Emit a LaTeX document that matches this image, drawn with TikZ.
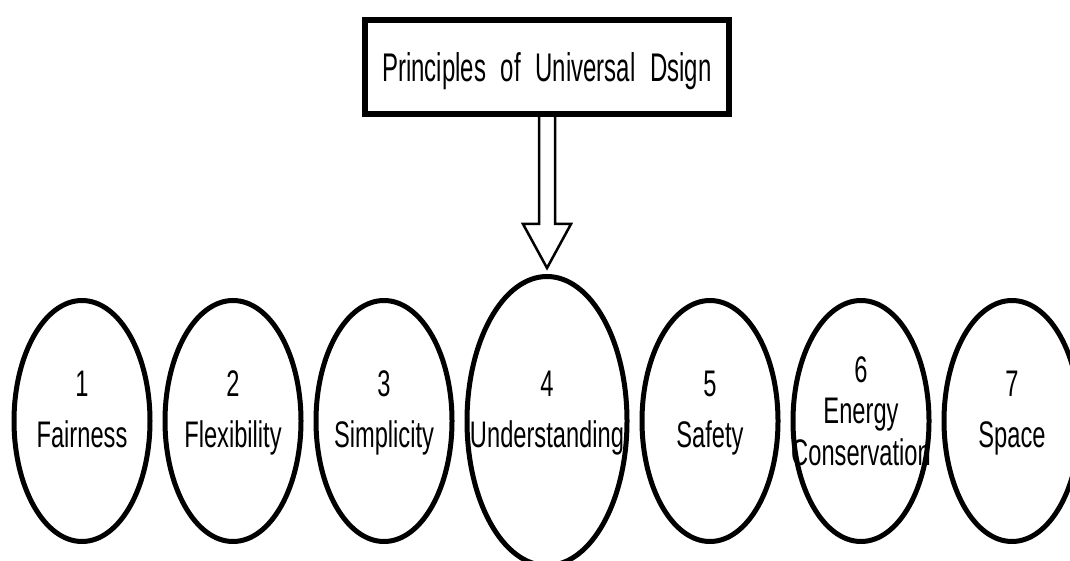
\documentclass[tikz,border=0pt]{standalone}
\usepackage{fontspec}
\newfontfamily\cadfont[FakeStretch=0.64]{Liberation Sans}
\newfontfamily\cadtitlefont[FakeStretch=0.6,WordSpace=2.2]{Liberation Sans}
\usetikzlibrary{positioning, calc, shapes.geometric}

\begin{document}
\begin{tikzpicture}[
    x=1pt, y=-1pt,
    principle/.style={draw, ellipse, line width=5pt, minimum width=136pt,
                      minimum height=241pt, inner sep=0pt},
    bigprinciple/.style={principle, minimum width=160pt, minimum height=289pt},
    titlebox/.style={draw, line width=6pt, minimum width=364pt,
                     minimum height=94pt, text depth=0pt,
                     font=\cadtitlefont\fontsize{40}{48}\selectfont},
    txt/.style={anchor=base, inner sep=0pt,
                font=\cadfont\fontsize{37}{44}\selectfont}
  ]
  \useasboundingbox (0,0) rectangle (1070,561);

  \node[titlebox] (title) at (547,67) {Principles of Universal Dsign};

  \node[principle] (p1) at (82,421) {};
  \node[principle, right=10pt of p1] (p2) {};
  \node[principle, right=10pt of p2] (p3) {};
  \node[bigprinciple, right=10pt of p3] (p4) {};
  \node[principle, right=10pt of p4] (p5) {};
  \node[principle, right=10pt of p5] (p6) {};
  \node[principle, right=10pt of p6] (p7) {};

  \foreach \i/\name in {1/Fairness, 2/Flexibility, 3/Simplicity,
                        4/Understanding, 5/Safety, 7/Space} {
    \node[txt] (n\i) at ($(p\i)+(0,-25)$) {\i};
    \node[txt] (t\i) at ($(p\i)+(0,26)$) {\name};
  }
  \node[txt] (n6) at ($(p6)+(0,-39)$) {6};
  \node[txt] (t6a) at ($(p6)+(0,2)$) {Energy};
  \node[txt] (t6b) at ($(p6)+(0,44)$) {Conservation};

  \coordinate (tip) at ($(p4.north)+(0,-6)$);
  \draw[line width=2.5pt, line join=miter]
    ($(title.south)+(-8,-3)$) -- ($(tip)+(-8,-44)$) -- ($(tip)+(-24,-44)$)
    -- (tip) -- ($(tip)+(24,-44)$) -- ($(tip)+(8,-44)$)
    -- ($(title.south)+(8,-3)$);
\end{tikzpicture}
\end{document}
